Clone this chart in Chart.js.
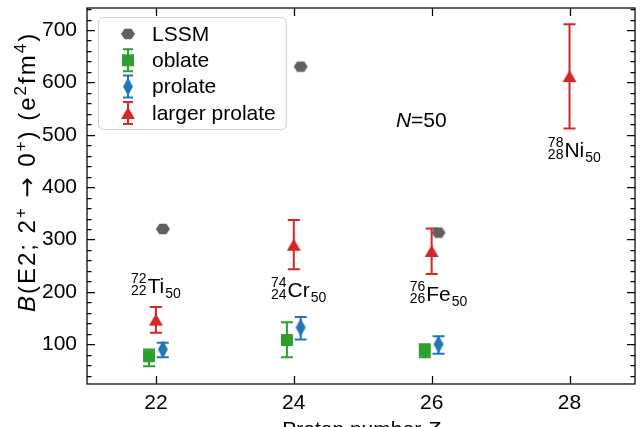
<!DOCTYPE html>
<html>
<head>
<meta charset="utf-8">
<script src="https://cdn.jsdelivr.net/npm/chart.js"></script>
<style>
  html, body { margin: 0; padding: 0; background: #fff; overflow: hidden; }
</style>
</head>
<body>
<canvas id="chart" width="643" height="427"></canvas>
<script>
const xTickValues = [22, 24, 26, 28];
const yTickValues = [100, 200, 300, 400, 500, 600, 700];

const lssmZ = [22, 24, 26];
const lssmBE2 = [320, 630, 313];

const oblateZ = [22, 24, 26];
const oblateBE2 = [77, 108, 88];
const oblateLow = [58, 75, 75];
const oblateHigh = [90, 142, 100];

const prolateZ = [22, 24, 26];
const prolateBE2 = [90, 132, 100];
const prolateLow = [75, 109, 82];
const prolateHigh = [103, 152, 115];

const largerZ = [22, 24, 26, 28];
const largerBE2 = [147, 290, 278, 612];
const largerLow = [122, 243, 234, 512];
const largerHigh = [171, 337, 321, 711];

const nucleusA = [72, 74, 76, 78];
const nucleusZ = [22, 24, 26, 28];
const nucleusSymbol = ["Ti", "Cr", "Fe", "Ni"];
const neutronNumber = 50;

// where the nuclide names sit, in data units (Z, B(E2))
const nucleusLabelAt = [[22.0, 213], [24.07, 205], [26.1, 196], [28.07, 471]];
const shellLabelAt = [25.85, 529];

const FONT = "'Liberation Sans', Arial, sans-serif";
const BASE = 21;
const SMALL = 14;

function makeMarker(w, h, color, path) {
  const c = document.createElement("canvas");
  c.width = w + 2;
  c.height = h + 2;
  const g = c.getContext("2d");
  g.translate(c.width / 2, c.height / 2);
  g.beginPath();
  path(g, w / 2, h / 2);
  g.closePath();
  g.fillStyle = color;
  g.fill();
  return c;
}

const hexagon = makeMarker(14, 12, "#606060", (g, rx, ry) => {
  for (let k = 0; k < 6; k++) {
    const a = (Math.PI / 3) * k;
    g.lineTo(rx * Math.cos(a), ry * Math.sin(a));
  }
});
const square = makeMarker(12, 12, "#2ca02c", (g, rx, ry) => g.rect(-rx, -ry, 2 * rx, 2 * ry));
const diamond = makeMarker(10, 18, "#1f77b4", (g, rx, ry) => {
  g.moveTo(0, -ry); g.lineTo(rx, 0); g.lineTo(0, ry); g.lineTo(-rx, 0);
});
const triangle = makeMarker(14, 12, "#d62728", (g, rx, ry) => {
  g.moveTo(0, -ry); g.lineTo(rx, ry); g.lineTo(-rx, ry);
});

function points(zs, vals, dz) {
  return zs.map((z, i) => ({ x: z + dz, y: vals[i] }));
}

const errorBarPlugin = {
  id: "errorBars",
  beforeDatasetsDraw(chart) {
    const { ctx, scales: { x, y } } = chart;
    chart.data.datasets.forEach((ds) => {
      if (!ds.errLow) return;
      ctx.save();
      ctx.strokeStyle = ds.errColor;
      ctx.lineWidth = 2;
      ds.data.forEach((p, j) => {
        const px = x.getPixelForValue(p.x);
        const top = y.getPixelForValue(ds.errHigh[j]);
        const bot = y.getPixelForValue(ds.errLow[j]);
        ctx.beginPath();
        ctx.moveTo(px, top); ctx.lineTo(px, bot);
        ctx.moveTo(px - 6, top); ctx.lineTo(px + 6, top);
        ctx.moveTo(px - 6, bot); ctx.lineTo(px + 6, bot);
        ctx.stroke();
      });
      ctx.restore();
    });
  }
};

const frameTicksPlugin = {
  id: "frameTicks",
  afterDatasetsDraw(chart) {
    const { ctx, chartArea: a, scales: { x, y } } = chart;
    ctx.save();
    ctx.strokeStyle = "#000";
    ctx.lineWidth = 1.25;
    ctx.beginPath();
    xTickValues.forEach((v) => {
      const px = Math.round(x.getPixelForValue(v)) + 0.5;
      ctx.moveTo(px, a.bottom); ctx.lineTo(px, a.bottom - 8);
      ctx.moveTo(px, a.top); ctx.lineTo(px, a.top + 8);
    });
    for (let v = 40; v <= 740; v += 20) {
      const len = v % 100 === 0 ? 8 : 4.5;
      const py = Math.round(y.getPixelForValue(v)) + 0.5;
      ctx.moveTo(a.left, py); ctx.lineTo(a.left + len, py);
      ctx.moveTo(a.right, py); ctx.lineTo(a.right - len, py);
    }
    ctx.stroke();
    ctx.strokeRect(a.left, a.top, a.right - a.left, a.bottom - a.top);
    ctx.restore();
  }
};

function drawNuclide(ctx, cx, cy, A, Zp, sym, N) {
  ctx.font = SMALL + "px " + FONT;
  const wStack = Math.max(ctx.measureText(String(A)).width, ctx.measureText(String(Zp)).width);
  const wN = ctx.measureText(String(N)).width;
  ctx.font = BASE + "px " + FONT;
  const wSym = ctx.measureText(sym).width;
  const total = wStack + 1 + wSym + 1 + wN;
  const left = cx - total / 2;
  const base = cy + 7.5;
  ctx.textAlign = "left";
  ctx.textBaseline = "alphabetic";
  ctx.fillText(sym, left + wStack + 1, base);
  ctx.font = SMALL + "px " + FONT;
  ctx.fillText(String(A), left, base - 10);
  ctx.fillText(String(Zp), left, base + 2);
  ctx.fillText(String(N), left + wStack + wSym + 2, base + 5);
}

function partFont(p, size, supSize) {
  return (p.italic ? "italic " : "") + (p.sup ? supSize : size) + "px " + (p.face || FONT);
}

function drawRich(ctx, parts, x0, base, size, supSize, lift) {
  let x = x0;
  parts.forEach((p) => {
    ctx.font = partFont(p, size, supSize);
    ctx.fillText(p.t, x, p.sup ? base - lift : base);
    x += ctx.measureText(p.t).width;
  });
  return x - x0;
}

function richWidth(ctx, parts, size, supSize) {
  let w = 0;
  parts.forEach((p) => {
    ctx.font = partFont(p, size, supSize);
    w += ctx.measureText(p.t).width;
  });
  return w;
}

const yTitle = [
  { t: "B", italic: true }, { t: "(E2; 2" }, { t: "+", sup: true }, { t: " " },
  { t: "\u2192", face: "'DejaVu Sans', sans-serif" }, { t: " 0" },
  { t: "+", sup: true }, { t: ") (e" }, { t: "2", sup: true }, { t: "fm" },
  { t: "4", sup: true }, { t: ")" }
];
const xTitle = [{ t: "Proton number " }, { t: "Z", italic: true }];
const shellText = [{ t: "N", italic: true }, { t: "=" + neutronNumber }];

const textPlugin = {
  id: "texts",
  afterDraw(chart) {
    const { ctx, chartArea: a, scales: { x, y } } = chart;
    ctx.save();
    ctx.fillStyle = "#000";
    ctx.textBaseline = "alphabetic";
    ctx.textAlign = "left";

    nucleusA.forEach((A, i) => {
      const [lz, lv] = nucleusLabelAt[i];
      drawNuclide(ctx, x.getPixelForValue(lz), y.getPixelForValue(lv), A, nucleusZ[i], nucleusSymbol[i], neutronNumber);
    });

    const sw = richWidth(ctx, shellText, BASE, SMALL);
    drawRich(ctx, shellText, x.getPixelForValue(shellLabelAt[0]) - sw / 2, y.getPixelForValue(shellLabelAt[1]) + 7.5, BASE, SMALL, 8);

    const xw = richWidth(ctx, xTitle, BASE, SMALL);
    drawRich(ctx, xTitle, (a.left + a.right) / 2 - xw / 2, 436, BASE, SMALL, 8);

    ctx.save();
    ctx.translate(35, 172);
    ctx.rotate(-Math.PI / 2);
    ctx.letterSpacing = "2px";
    const yw = richWidth(ctx, yTitle, 24, 17);
    drawRich(ctx, yTitle, -yw / 2, 0, 24, 17, 9);
    ctx.restore();

    // legend
    const bx = a.left + 11, by = a.top + 9;
    ctx.font = BASE + "px " + FONT;
    let maxW = 0;
    chart.data.datasets.forEach((ds) => { maxW = Math.max(maxW, ctx.measureText(ds.label).width); });
    const bw = 54 + maxW + 10, bh = 112;
    ctx.beginPath();
    ctx.roundRect(bx + 0.5, by + 0.5, bw, bh, 5);
    ctx.fillStyle = "rgba(255,255,255,0.8)";
    ctx.fill();
    ctx.strokeStyle = "#cccccc";
    ctx.lineWidth = 1;
    ctx.stroke();
    chart.data.datasets.forEach((ds, i) => {
      const cy = by + 17 + i * 26.3;
      const cx = bx + 30;
      if (ds.errLow) {
        ctx.strokeStyle = ds.errColor;
        ctx.lineWidth = 2;
        ctx.beginPath();
        ctx.moveTo(cx, cy - 11); ctx.lineTo(cx, cy + 11);
        ctx.moveTo(cx - 5, cy - 11); ctx.lineTo(cx + 5, cy - 11);
        ctx.moveTo(cx - 5, cy + 11); ctx.lineTo(cx + 5, cy + 11);
        ctx.stroke();
      }
      const m = ds.pointStyle;
      ctx.drawImage(m, cx - m.width / 2, cy - m.height / 2);
      ctx.fillStyle = "#000";
      ctx.font = BASE + "px " + FONT;
      ctx.textBaseline = "middle";
      ctx.fillText(ds.label, bx + 54, cy + 1);
    });
    ctx.restore();
  }
};

new Chart(document.getElementById("chart"), {
  type: "scatter",
  data: {
    datasets: [
      { label: "LSSM", data: points(lssmZ, lssmBE2, 0.1), pointStyle: hexagon, pointRadius: 7 },
      { label: "oblate", data: points(oblateZ, oblateBE2, -0.1), pointStyle: square, pointRadius: 7,
        errLow: oblateLow, errHigh: oblateHigh, errColor: "#2ca02c" },
      { label: "prolate", data: points(prolateZ, prolateBE2, 0.1), pointStyle: diamond, pointRadius: 7,
        errLow: prolateLow, errHigh: prolateHigh, errColor: "#1f77b4" },
      { label: "larger prolate", data: points(largerZ, largerBE2, 0), pointStyle: triangle, pointRadius: 7,
        errLow: largerLow, errHigh: largerHigh, errColor: "#d62728" }
    ]
  },
  options: {
    responsive: false,
    animation: false,
    devicePixelRatio: 1,
    layout: { padding: { top: 8, right: 2, left: 0, bottom: 0 } },
    plugins: { legend: { display: false }, tooltip: { enabled: false } },
    scales: {
      x: {
        type: "linear",
        min: 21,
        max: 28.95,
        afterBuildTicks: (s) => { s.ticks = xTickValues.map((v) => ({ value: v })); },
        afterFit: (s) => { s.height = 43; s.paddingLeft = 0; s.paddingRight = 0; },
        grid: { display: false, drawTicks: false },
        border: { display: false },
        ticks: { color: "#000", font: { family: FONT, size: BASE }, padding: 7, maxRotation: 0, autoSkip: false }
      },
      y: {
        type: "linear",
        min: 24,
        max: 742,
        afterBuildTicks: (s) => { s.ticks = yTickValues.map((v) => ({ value: v })); },
        afterFit: (s) => { s.width = 87; s.paddingTop = 0; s.paddingBottom = 0; },
        grid: { display: false, drawTicks: false },
        border: { display: false },
        ticks: { color: "#000", font: { family: FONT, size: BASE }, padding: 10 }
      }
    }
  },
  plugins: [errorBarPlugin, frameTicksPlugin, textPlugin]
});
</script>
</body>
</html>
